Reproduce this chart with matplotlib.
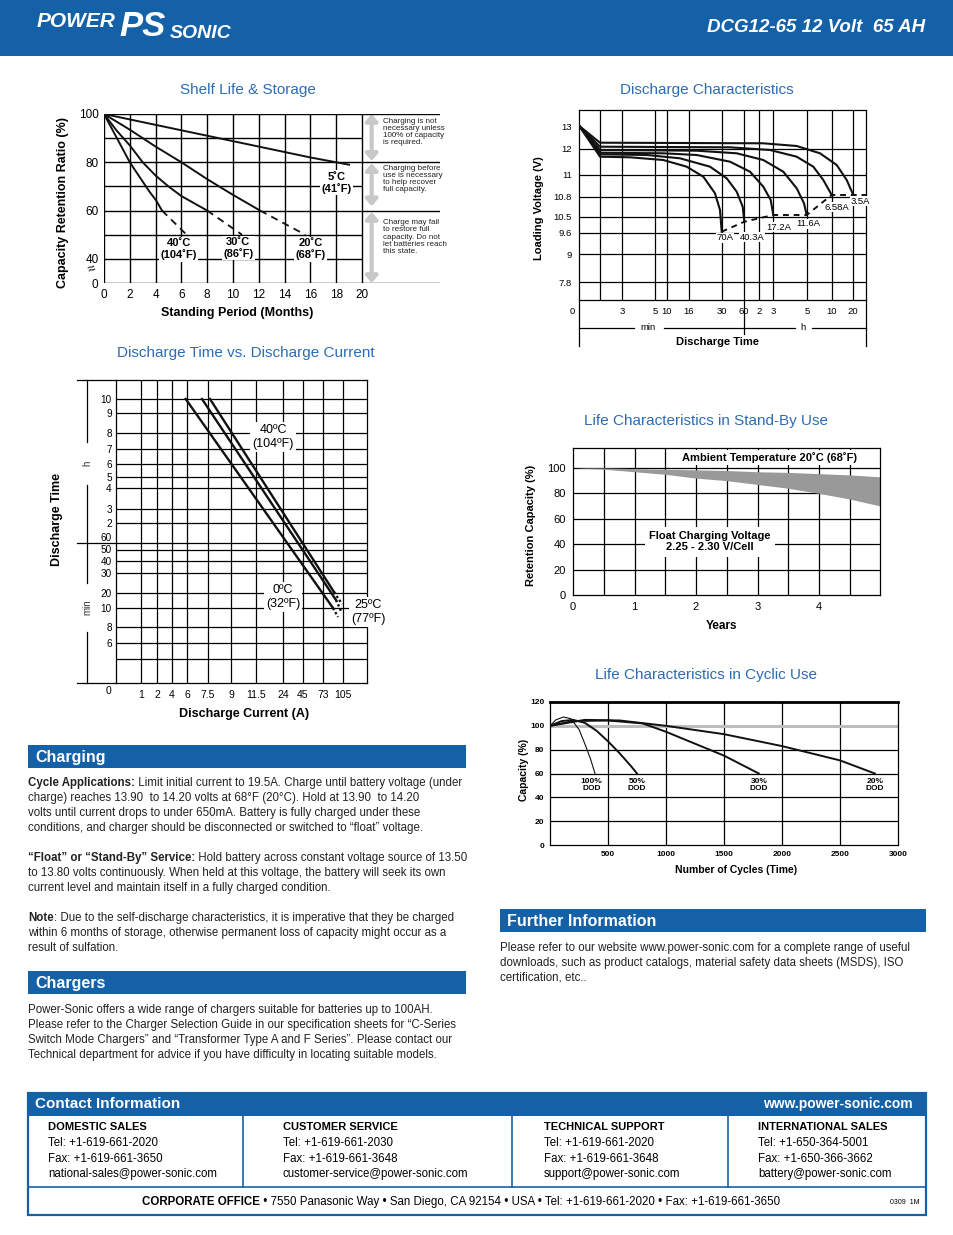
import numpy as np
import matplotlib
matplotlib.use('Agg')
import matplotlib.pyplot as plt
from matplotlib.patches import Rectangle, FancyArrowPatch

W, H = 954, 1235
BLUE = '#1461a8'
TBLUE = '#2c6cb4'
plt.rcParams['font.family'] = ['Liberation Sans', 'DejaVu Sans']
NARROW = ['Liberation Sans Narrow', 'Liberation Sans']

# ---------------- data ----------------
# shelf life (months, % retention)
shelf_ticks = [0, 2, 4, 6, 8, 10, 12, 14, 16, 18, 20]
s5_x = [0, 4, 8, 12, 16, 19]
s5_y = [100, 95.5, 91, 86.5, 82, 79]
s20_x = [0, 2, 4, 6, 8, 10, 12.1]
s20_y = [100, 93.5, 86.5, 80, 73, 66.5, 60]
s20_dx, s20_dy = [12.1, 15.6], [60, 50]
s30_x = [0, 1, 2, 3, 4, 5, 6, 7, 8]
s30_y = [100, 93, 87, 80, 74.5, 70, 66, 63, 60]
s30_dx, s30_dy = [8, 10.7], [60, 50]
s40_x = [0, 0.5, 1, 1.5, 2, 2.5, 3, 3.5, 4, 4.5]
s40_y = [100, 95, 90, 85, 80, 76, 72, 68, 64.5, 60]
s40_dx, s40_dy = [4.5, 6.4], [60, 50]

# discharge characteristics (chart grid units)
dc_grid_x = [21, 43, 76, 88, 110, 143, 165, 180, 194, 228, 253, 274]
dc_xlabels = ['', '3', '5', '10', '16', '30', '60', '2', '3', '5', '10', '20']
dc_grid_y = [18, 46, 67, 83, 103, 125, 151]
dc_ylab_pos = [18, 46, 67, 83, 103, 125, 151, 174]
dc_ylabels = ['7.8', '9', '9.6', '10.5', '10.8', '11', '12', '13']
dc_curves = {
    '70A': ([0.3, 21, 51, 84.3, 107.7, 124.3, 136, 141, 142.7],
            [174, 143.3, 142.7, 140, 133.3, 123.3, 106.7, 90, 68.3]),
    '40.3A': ([0.3, 21, 67.7, 101, 131, 147.7, 157.7, 163.7, 165.3],
              [174, 145.7, 145, 141.7, 133.3, 121.7, 108.3, 93.3, 78.3]),
    '17.2A': ([0.3, 21, 84.3, 117.7, 151, 171, 184.3, 191.7, 194.3],
              [174, 147.3, 146.7, 145, 138.3, 128.3, 113.3, 100, 85]),
    '11.6A': ([0.3, 21, 117.7, 157.7, 184.3, 204.3, 217.7, 225, 227.7],
              [174, 150, 149.3, 146.7, 140, 128.3, 111.7, 96.7, 85]),
    '6.58A': ([0.3, 21, 151, 191, 217.7, 234.3, 244.3, 252.7],
              [174, 153.3, 152.7, 150, 143.3, 133.3, 120, 105]),
    '3.5A': ([0.3, 21, 184.3, 217.7, 241, 257.7, 267.7, 274.3],
             [174, 157.3, 156.7, 154, 146.7, 135, 120, 105]),
}
dc_label_pos = {'70A': (146, 62), '40.3A': (173, 63), '17.2A': (200, 73),
                '11.6A': (229, 76), '6.58A': (258, 93), '3.5A': (281, 99)}

# discharge time vs current (chart grid units)
dt_grid_x = [25, 41, 56, 71, 92, 115, 140, 167, 187, 207, 227]
dt_xlabels = ['1', '2', '4', '6', '7.5', '9', '11.5', '24', '45', '73', '105']
dt_grid_y = [284, 270, 250, 234, 219, 206, 195, 174, 160, 140, 133, 122, 110, 90, 75, 56, 40, 24]
dt_ylabels = ['10', '9', '8', '7', '6', '5', '4', '3', '2', '60', '50', '40', '30', '20',
              '10', '8', '6', '']
dt_0c = ([69.7, 217, 222], [284, 75, 66])
dt_25c = ([86, 220, 225], [284, 83, 72])
dt_40c = ([94, 218, 226], [284, 91, 79])

# stand-by life
sb_years = [0, 0.5, 1, 1.5, 2, 2.5, 3, 3.5, 4, 4.5, 5]
sb_upper = [100, 100, 99.5, 99, 98.5, 98, 97, 96.5, 95.5, 94.5, 93]
sb_lower = [100, 99, 97, 95, 92, 90, 87, 84, 80, 75.5, 70]

# cyclic life
cy_100_x = [0, 50, 115, 180, 250, 300, 350, 388]
cy_100_y = [100, 105, 107.4, 106, 97, 85, 72, 60]
cy_50_x = [0, 100, 200, 300, 400, 500, 600, 700, 750]
cy_50_y = [100, 104, 105, 102.5, 96, 87, 77, 66, 60]
cy_30_x = [0, 200, 500, 800, 1000, 1200, 1500, 1800]
cy_30_y = [100, 104, 104.5, 102, 95, 87, 75, 60]
cy_20_x = [0, 300, 600, 1000, 1500, 2000, 2500, 2800]
cy_20_y = [100, 105, 104.5, 100, 93, 83, 71, 60]

fig = plt.figure(figsize=(W / 100, H / 100), dpi=100)


def px_axes(x0, y0, x1, y1, **kw):
    return fig.add_axes([x0 / W, 1 - y1 / H, (x1 - x0) / W, (y1 - y0) / H], **kw)


page = px_axes(0, 0, W, H)
page.set_xlim(0, W)
page.set_ylim(H, 0)
page.axis('off')


def bar(x0, y0, x1, y1, label):
    page.add_patch(Rectangle((x0, y0), x1 - x0, y1 - y0, color=BLUE, lw=0))
    page.text(x0 + 7, (y0 + y1) / 2 + 1, label, color='white', fontsize=11.5,
              fontweight='bold', va='center', ha='left')


def title(x, y, s):
    page.text(x, y, s, color=TBLUE, fontsize=11, ha='center', va='center')


def lines(x, y0, rows, bold_prefix=None, size=8.3):
    for i, r in enumerate(rows):
        yy = y0 + i * 15
        if i == 0 and bold_prefix:
            t = page.text(x, yy, bold_prefix, fontsize=size, fontweight='bold',
                          va='baseline', color='#222222')
            page.annotate(r, xy=(1, 0), xycoords=t, va='bottom', ha='left',
                          fontsize=size, color='#222222')
        else:
            page.text(x, yy, r, fontsize=size, va='baseline', color='#222222')


# ---------------- header ----------------
page.add_patch(Rectangle((0, 0), W, 56, color=BLUE, lw=0))
page.text(37, 31, 'POWER', color='white', fontsize=15, fontweight='heavy',
          fontstyle='italic', va='bottom')
page.text(119, 43, 'PS', color='white', fontsize=25, fontweight='heavy',
          fontstyle='italic', va='bottom')
page.text(170, 42, 'SONIC', color='white', fontsize=14, fontweight='heavy',
          fontstyle='italic', va='bottom')
page.text(925, 28, 'DCG12-65 12 Volt  65 AH', color='white', fontsize=13.5,
          fontweight='bold', fontstyle='italic', ha='right', va='center')

# ---------------- chart 1: shelf life ----------------
title(248, 90, 'Shelf Life & Storage')
ax1 = px_axes(104, 114, 440, 283)
ax1.set_xlim(0, (440 - 104) / 12.9)
ax1.set_ylim(30, 100)
for s in ax1.spines.values():
    s.set_visible(False)
ax1.vlines(shelf_ticks, 30, 100, color='black', lw=1)
ax1.hlines([40, 50, 70, 90], 0, 20, color='black', lw=1)
ax1.hlines([30, 60, 80, 100], 0, ax1.get_xlim()[1], color='black', lw=1)
ax1.set_xticks(shelf_ticks)
ax1.set_xticklabels([str(v) for v in shelf_ticks], fontsize=8.5)
ax1.set_yticks([30, 40, 60, 80, 100])
ax1.set_yticklabels(['0', '40', '60', '80', '100'], fontsize=8.5)
ax1.tick_params(length=0, pad=4)
for (x, y, dx, dy) in [(s40_x, s40_y, s40_dx, s40_dy), (s30_x, s30_y, s30_dx, s30_dy),
                       (s20_x, s20_y, s20_dx, s20_dy)]:
    ax1.plot(x, y, color='#111111', lw=1.4, zorder=3)
    ax1.plot(dx, dy, color='#111111', lw=1.3, ls=(0, (4, 3)), zorder=3)
ax1.plot(s5_x, s5_y, color='#111111', lw=1.4, zorder=3)
box = dict(facecolor='white', edgecolor='none', pad=1)
ax1.text(5.8, 44, '40˚C\n(104˚F)', fontsize=8, fontweight='bold', ha='center', va='center',
         bbox=box, zorder=4, linespacing=1.15)
ax1.text(10.4, 44.5, '30˚C\n(86˚F)', fontsize=8, fontweight='bold', ha='center', va='center',
         bbox=box, zorder=4, linespacing=1.15)
ax1.text(16.0, 44, '20˚C\n(68˚F)', fontsize=8, fontweight='bold', ha='center', va='center',
         bbox=box, zorder=4, linespacing=1.15)
ax1.text(18.0, 71.5, '5˚C\n(41˚F)', fontsize=8, fontweight='bold', ha='center', va='center',
         bbox=box, zorder=4, linespacing=1.15)
for y0, y1 in [(100, 80.6), (79.6, 61.8), (59.4, 30)]:
    ax1.add_patch(FancyArrowPatch((20.75, y0), (20.75, y1),
                                  arrowstyle='<|-|>,head_length=4,head_width=3.5',
                                  color='#c8c8c8', lw=3, mutation_scale=1, shrinkA=0, shrinkB=0))
notes = ['Charging is not\nnecessary unless\n100% of capacity\nis required.',
         'Charging before\nuse is necessary\nto help recover\nfull capacity.',
         'Charge may fail\nto restore full\ncapacity. Do not\nlet batteries reach\nthis state.']
for n, y in zip(notes, [98.5, 79, 56.5]):
    ax1.text(21.6, y, n, fontsize=5.8, family=NARROW, va='top', ha='left', linespacing=1.05,
             color='#222222')
page.text(63, 203, 'Capacity Retention Ratio (%)', rotation=90, fontsize=9, fontweight='bold',
          ha='center', va='center')
page.text(237, 313, 'Standing Period (Months)', fontsize=9, fontweight='bold', ha='center',
          va='center')
page.text(92, 269, '≈', fontsize=10, rotation=20, ha='center', va='center')

# ---------------- chart 2: discharge characteristics ----------------
title(707, 90, 'Discharge Characteristics')
ax2 = px_axes(579, 110, 866, 300)
ax2.set_xlim(0, 287)
ax2.set_ylim(0, 190)
ax2.vlines(dc_grid_x, 0, 190, color='black', lw=0.9)
ax2.hlines(dc_grid_y, 0, 287, color='black', lw=0.9)
for s in ax2.spines.values():
    s.set_linewidth(0.9)
ax2.set_xticks(dc_grid_x)
ax2.set_xticklabels(dc_xlabels, fontsize=6.8)
ax2.set_yticks(dc_ylab_pos)
ax2.set_yticklabels(dc_ylabels, fontsize=6.8)
ax2.tick_params(length=0, pad=5)
ends_x, ends_y = [], []
for name, (x, y) in dc_curves.items():
    ax2.plot(x, y, color='#111111', lw=1.5, zorder=3)
    ends_x.append(x[-1])
    ends_y.append(y[-1])
    lx, ly = dc_label_pos[name]
    ax2.text(lx, ly, name, fontsize=6.8, ha='center', va='center',
             bbox=dict(facecolor='white', edgecolor='none', pad=0.5), zorder=4, clip_on=False)
ax2.plot(ends_x + [287], ends_y + [ends_y[-1]], color='#111111', lw=1.4, ls=(0, (3, 2.5)),
         zorder=3, clip_on=False)
page.text(575, 311, '0', fontsize=6.8, ha='right', va='center')
page.plot([579, 579], [300, 346], color='black', lw=0.9)
page.plot([866, 866], [300, 346], color='black', lw=0.9)
page.plot([744, 744], [300, 334], color='black', lw=0.9)
page.plot([579, 634], [328, 328], color='black', lw=0.9)
page.plot([664, 795], [328, 328], color='black', lw=0.9)
page.plot([812, 866], [328, 328], color='black', lw=0.9)
page.text(648, 328, 'min', fontsize=6.8, ha='center', va='center')
page.text(803, 328, 'h', fontsize=6.8, ha='center', va='center')
page.text(718, 342, 'Discharge Time', fontsize=8, fontweight='bold', ha='center', va='center')
page.text(539, 208, 'Loading Voltage (V)', rotation=90, fontsize=8, fontweight='bold',
          ha='center', va='center')

# ---------------- chart 3: discharge time vs current ----------------
title(246, 353, 'Discharge Time vs. Discharge Current')
ax3 = px_axes(116, 380, 367, 683)
ax3.set_xlim(0, 251)
ax3.set_ylim(0, 303)
ax3.vlines(dt_grid_x, 0, 303, color='black', lw=0.9)
ax3.hlines(dt_grid_y, 0, 251, color='black', lw=0.9)
for s in ax3.spines.values():
    s.set_linewidth(0.9)
ax3.set_xticks(dt_grid_x)
ax3.set_xticklabels(dt_xlabels, fontsize=7.5)
ax3.set_yticks(dt_grid_y)
ax3.set_yticklabels(dt_ylabels, fontsize=7.2)
ax3.tick_params(length=0, pad=3)
ax3.tick_params(axis='x', pad=5)
ylabs = ax3.get_yticklabels()
ylabs[9].set_va('bottom')
ylabs[10].set_va('center')
for x, y in [dt_0c, dt_25c, dt_40c]:
    ax3.plot(x[:2], y[:2], color='#111111', lw=1.7, zorder=3)
    ax3.plot(x[1:], y[1:], color='#111111', lw=1.7, ls=(0, (1, 1)), zorder=3)
ax3.text(157, 246, '40ºC\n(104ºF)', fontsize=9, ha='center', va='center', zorder=4,
         bbox=dict(facecolor='white', edgecolor='none', pad=1.5), linespacing=1.2)
ax3.text(167, 86, '0ºC\n(32ºF)', fontsize=9, ha='center', va='center', zorder=4,
         bbox=dict(facecolor='white', edgecolor='none', pad=1.5), linespacing=1.2)
ax3.text(252, 71, '25ºC\n(77ºF)', fontsize=9, ha='center', va='center', linespacing=1.2,
         zorder=5, clip_on=False, bbox=dict(facecolor='white', edgecolor='none', pad=1.5))
page.text(109, 691, '0', fontsize=7.5, ha='center', va='center')
for y0, y1 in [(380, 442), (485, 583), (632, 683)]:
    page.plot([87, 87], [y0, y1], color='black', lw=0.9)
for y in [380, 543, 683]:
    page.plot([77, 116], [y, y], color='black', lw=0.9)
page.text(87, 463, 'h', rotation=90, fontsize=7, ha='center', va='center', color='#333333')
page.text(87, 607, 'min', rotation=90, fontsize=7, ha='center', va='center', color='#333333')
page.text(57, 520, 'Discharge Time', rotation=90, fontsize=9, fontweight='bold', ha='center',
          va='center')
page.text(244, 714, 'Discharge Current (A)', fontsize=9, fontweight='bold', ha='center',
          va='center')

# ---------------- chart 4: stand-by ----------------
title(706, 421, 'Life Characteristics in Stand-By Use')
ax4 = px_axes(573, 448, 880, 595)
ax4.set_xlim(0, 4.99)
ax4.set_ylim(0, 115.7)
ax4.fill_between(sb_years, sb_lower, sb_upper, color='#999999', lw=0, zorder=2)
ax4.vlines(np.arange(0.5, 5, 0.5), 0, 115.7, color='black', lw=0.9, zorder=1)
ax4.hlines([20, 40, 60, 80, 100], 0, 5, color='black', lw=0.9, zorder=1)
ax4.set_xticks([0, 1, 2, 3, 4])
ax4.set_xticklabels(['0', '1', '2', '3', '4'], fontsize=8)
ax4.set_yticks([0, 20, 40, 60, 80, 100])
ax4.set_yticklabels(['0', '20', '40', '60', '80', '100'], fontsize=8)
ax4.tick_params(length=0, pad=5)
for s in ax4.spines.values():
    s.set_linewidth(0.9)
ax4.text(3.19, 108.5, 'Ambient Temperature 20˚C (68˚F)', fontsize=8, fontweight='bold',
         ha='center', va='center', zorder=4,
         bbox=dict(facecolor='white', edgecolor='none', pad=1.5))
ax4.text(2.23, 42, 'Float Charging Voltage\n2.25 - 2.30 V/Cell', fontsize=8, fontweight='bold',
         ha='center', va='center', zorder=4, linespacing=1.2,
         bbox=dict(facecolor='white', edgecolor='none', pad=3))
page.text(531, 525, 'Retention Capacity (%)', rotation=90, fontsize=8, fontweight='bold',
          ha='center', va='center')
page.text(722, 626, 'Years', fontsize=8.5, fontweight='bold', ha='center', va='center')

# ---------------- chart 5: cyclic ----------------
title(706, 675, 'Life Characteristics in Cyclic Use')
ax5 = px_axes(550, 702, 898, 845)
ax5.set_xlim(0, 3000)
ax5.set_ylim(0, 120)
ax5.vlines([500, 1000, 1500, 2000, 2500], 0, 120, color='black', lw=0.9, zorder=1)
ax5.hlines([20, 40, 60, 80], 0, 3000, color='black', lw=0.9, zorder=1)
ax5.axhline(100, color='#bdbdbd', lw=2.2, zorder=1)
ax5.set_xticks([500, 1000, 1500, 2000, 2500, 3000])
ax5.set_xticklabels(['500', '1000', '1500', '2000', '2500', '3000'], fontsize=6,
                    fontweight='bold')
ax5.set_yticks([0, 20, 40, 60, 80, 100, 120])
ax5.set_yticklabels(['0', '20', '40', '60', '80', '100', '120'], fontsize=6, fontweight='bold')
ax5.tick_params(length=0, pad=4)
for s in ax5.spines.values():
    s.set_linewidth(0.9)
ax5.spines['top'].set_linewidth(2)
ax5.plot(cy_100_x, cy_100_y, color='#111111', lw=0.8, zorder=3)
ax5.plot(cy_50_x, cy_50_y, color='#111111', lw=1.4, zorder=3)
ax5.plot(cy_30_x, cy_30_y, color='#111111', lw=1.4, zorder=3)
ax5.plot(cy_20_x, cy_20_y, color='#111111', lw=1.4, zorder=3)
for x, s in [(357, '100%\nDOD'), (752, '50%\nDOD'), (1800, '30%\nDOD'), (2800, '20%\nDOD')]:
    ax5.text(x, 50, s, fontsize=6, fontweight='bold', ha='center', va='center', zorder=4,
             linespacing=1.0, bbox=dict(facecolor='white', edgecolor='none', pad=0.5))
page.text(524, 770, 'Capacity (%)', rotation=90, fontsize=7.5, fontweight='bold', ha='center',
          va='center')
page.text(736, 870, 'Number of Cycles (Time)', fontsize=7.5, fontweight='bold', ha='center',
          va='center')

# ---------------- text sections ----------------
bar(28, 745, 466, 768, 'Charging')
lines(28, 786, [
    ' Limit initial current to 19.5A. Charge until battery voltage (under',
    'charge) reaches 13.90  to 14.20 volts at 68°F (20°C). Hold at 13.90  to 14.20',
    'volts until current drops to under 650mA. Battery is fully charged under these',
    'conditions, and charger should be disconnected or switched to “float” voltage.'],
    bold_prefix='Cycle Applications:')
lines(28, 861, [
    ' Hold battery across constant voltage source of 13.50',
    'to 13.80 volts continuously. When held at this voltage, the battery will seek its own',
    'current level and maintain itself in a fully charged condition.'],
    bold_prefix='“Float” or “Stand-By” Service:')
lines(28, 921, [
    ': Due to the self-discharge characteristics, it is imperative that they be charged',
    'within 6 months of storage, otherwise permanent loss of capacity might occur as a',
    'result of sulfation.'],
    bold_prefix='Note')
bar(28, 971, 466, 994, 'Chargers')
lines(28, 1013, [
    'Power-Sonic offers a wide range of chargers suitable for batteries up to 100AH.',
    'Please refer to the Charger Selection Guide in our specification sheets for “C-Series',
    'Switch Mode Chargers” and “Transformer Type A and F Series”. Please contact our',
    'Technical department for advice if you have difficulty in locating suitable models.'])
bar(500, 909, 926, 932, 'Further Information')
lines(500, 951, [
    'Please refer to our website www.power-sonic.com for a complete range of useful',
    'downloads, such as product catalogs, material safety data sheets (MSDS), ISO',
    'certification, etc..'])

# ---------------- contact box ----------------
page.add_patch(Rectangle((28, 1093), 898, 122, facecolor='none', edgecolor=BLUE, lw=1.6))
page.add_patch(Rectangle((28, 1093), 898, 23, color=BLUE, lw=0))
page.text(35, 1104, 'Contact Information', color='white', fontsize=11, fontweight='bold',
          va='center')
page.text(913, 1104, 'www.power-sonic.com', color='white', fontsize=10, fontweight='bold',
          va='center', ha='right')
for x in [243, 512, 728]:
    page.plot([x, x], [1116, 1187], color=BLUE, lw=1.2)
page.plot([28, 926], [1187, 1187], color=BLUE, lw=1.2)
cols = [
    (48, 'DOMESTIC SALES', 'Tel: +1-619-661-2020', 'Fax: +1-619-661-3650',
     'national-sales@power-sonic.com'),
    (283, 'CUSTOMER SERVICE', 'Tel: +1-619-661-2030', 'Fax: +1-619-661-3648',
     'customer-service@power-sonic.com'),
    (544, 'TECHNICAL SUPPORT', 'Tel: +1-619-661-2020', 'Fax: +1-619-661-3648',
     'support@power-sonic.com'),
    (758, 'INTERNATIONAL SALES', 'Tel: +1-650-364-5001', 'Fax: +1-650-366-3662',
     'battery@power-sonic.com'),
]
for x, head, tel, fax, mail in cols:
    page.text(x, 1127, head, fontsize=8, fontweight='bold', va='center', family=NARROW)
    for i, s in enumerate([tel, fax, mail]):
        page.text(x, 1143 + i * 15.5, s, fontsize=8.3, va='center', family=NARROW)
corp = page.text(142, 1202, 'CORPORATE OFFICE', fontsize=8.3, fontweight='bold', va='center',
                 family=NARROW)
page.annotate(' • 7550 Panasonic Way • San Diego, CA 92154 • USA • Tel: +1-619-661-2020 • '
              'Fax: +1-619-661-3650', xy=(1, 0.5), xycoords=corp, va='center', ha='left',
              fontsize=8.3, family=NARROW)
page.text(920, 1202, '0309  1M', fontsize=5, ha='right', va='center', family=NARROW)

fig.savefig('out.png', dpi=100)
